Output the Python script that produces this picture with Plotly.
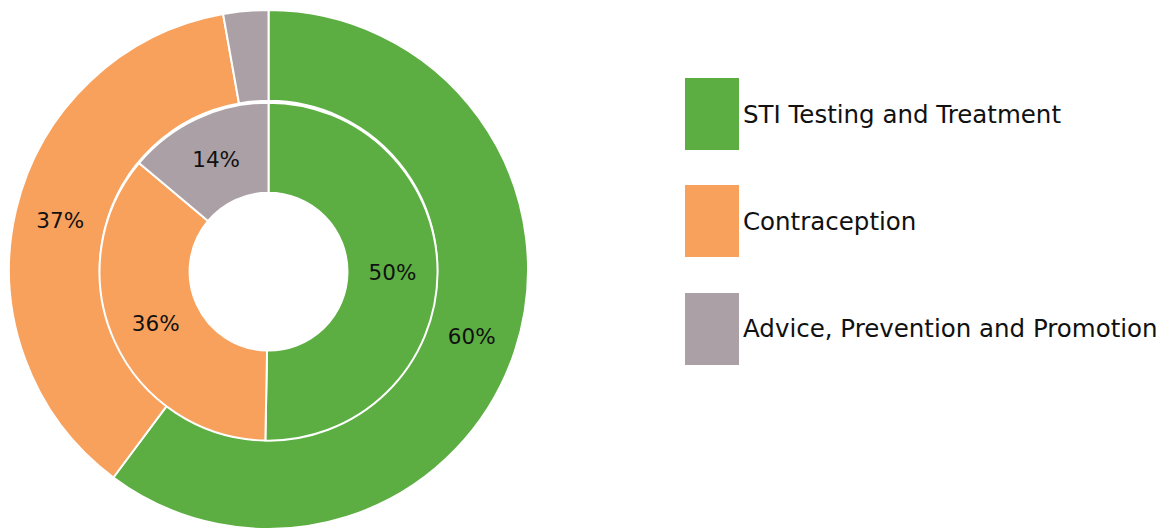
import plotly.graph_objects as go

categories = ["STI Testing and Treatment", "Contraception", "Advice, Prevention and Promotion"]
outer_values = [60.2, 37.0, 2.8]
inner_values = [50.3, 35.8, 13.9]
outer_text = ["60%", "37%", ""]
inner_text = ["50%", "36%", "14%"]
colors = ["#5cae42", "#f8a15d", "#aba0a5"]

W, H = 1164, 529
FONT = "Verdana, DejaVu Sans, sans-serif"

fig = go.Figure()

fig.add_trace(go.Pie(
    labels=categories, values=outer_values, text=outer_text,
    textinfo="text", textposition="inside", insidetextorientation="horizontal",
    hole=0.65, sort=False, direction="clockwise", rotation=0,
    marker=dict(colors=colors, line=dict(color="white", width=2)),
    domain=dict(x=[0.0073, 0.4541], y=[0.0, 0.981]),
    textfont=dict(family=FONT, size=21.5, color="#111111"),
    showlegend=False, hoverinfo="label+percent",
))

fig.add_trace(go.Pie(
    labels=categories, values=inner_values, text=inner_text,
    textinfo="text", textposition="inside", insidetextorientation="horizontal",
    hole=0.467, sort=False, direction="clockwise", rotation=0,
    marker=dict(colors=colors, line=dict(color="white", width=2)),
    domain=dict(x=[0.0855, 0.3759], y=[0.167, 0.806]),
    textfont=dict(family=FONT, size=21.5, color="#111111"),
    showlegend=False, hoverinfo="label+percent",
))

# custom legend with large swatches
sw_x0, sw_x1 = 685 / W, 739 / W
tops = [78, 185, 293]
sw_h = 72
shapes = []
annotations = []
for cat, col, top in zip(categories, colors, tops):
    y1 = (H - top) / H
    y0 = (H - top - sw_h) / H
    shapes.append(dict(type="rect", xref="paper", yref="paper",
                       x0=sw_x0, x1=sw_x1, y0=y0, y1=y1,
                       fillcolor=col, line=dict(width=0)))
    annotations.append(dict(xref="paper", yref="paper", x=741 / W, y=(y0 + y1) / 2,
                            text=cat, showarrow=False, xanchor="left", yanchor="middle",
                            font=dict(family=FONT, size=24.5, color="#111111")))

fig.update_layout(
    width=W, height=H,
    margin=dict(l=0, r=0, t=0, b=0),
    paper_bgcolor="white", plot_bgcolor="white",
    shapes=shapes, annotations=annotations,
    showlegend=False,
)

fig.write_html("out.html", config=dict(displayModeBar=False),
               post_script="document.body.style.margin='0';")
